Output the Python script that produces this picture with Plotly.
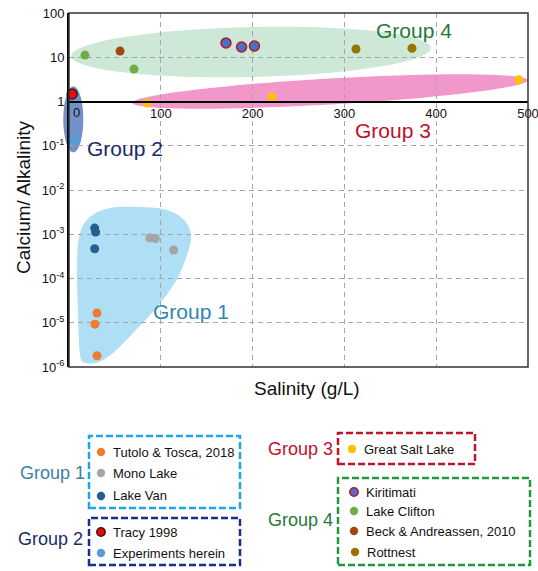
import numpy as np
import plotly.graph_objects as go

# ---------------- data ----------------
tutolo_sal = [30.5, 28.3, 30.5]
tutolo_ratio = [1.66e-5, 9.3e-6, 1.8e-6]
mono_sal = [88, 94, 114]
mono_ratio = [8.3e-4, 8.0e-4, 4.4e-4]
van_sal = [28, 29, 28]
van_ratio = [1.38e-3, 1.12e-3, 4.7e-4]
tracy_sal = [3.5]
tracy_ratio = [1.48]
exp_sal = [2, 8]
exp_ratio = [0.135, 0.135]
gsl_sal = [85, 221, 490]
gsl_ratio = [0.92, 1.26, 3.1]
kiri_sal = [171, 188, 202]
kiri_ratio = [21, 17, 18]
clifton_sal = [17.4, 70.8]
clifton_ratio = [11.2, 5.4]
beck_sal = [55.6]
beck_ratio = [13.8]
rott_sal = [312.6, 373.6]
rott_ratio = [15.4, 16]

x_ticks = [0, 100, 200, 300, 400, 500]
x_ticktext = ["", "100", "200", "300", "400", "500"]   # "0" is drawn slightly offset below
y_tickvals = [1e2, 1e1, 1, 1e-1, 1e-2, 1e-3, 1e-4, 1e-5, 1e-6]
y_ticktext = ["100", "10", "1", "10<sup>-1</sup>", "10<sup>-2</sup>", "10<sup>-3</sup>",
              "10<sup>-4</sup>", "10<sup>-5</sup>", "10<sup>-6</sup>"]

# ---------------- layout geometry ----------------
W_FIG, H_FIG = 538, 571
PL, PR, PT, PB = 69, 528, 13, 367          # plot area in pixels
ML, MR, MT, MB = PL, W_FIG - PR, PT, H_FIG - PB
PW = PR - PL
PH = PB - PT
FONT = "Arial, Liberation Sans, sans-serif"


def px(x):
    return (x - PL) / PW


def py(y):
    return (PB - y) / PH


def ellipse_path(cx, cy, a, b, ang_deg, n=80):
    t = np.linspace(0, 2 * np.pi, n, endpoint=False)
    ang = np.deg2rad(ang_deg)
    ex = a * np.cos(t)
    ey = b * np.sin(t)
    X = cx + ex * np.cos(ang) + ey * np.sin(ang)
    Y = cy - (ex * np.sin(ang) - ey * np.cos(ang))
    pts = [f"{px(xx):.5f},{py(yy):.5f}" for xx, yy in zip(X, Y)]
    return "M" + " L".join(pts) + " Z"


def smooth_closed_path(points, steps=12):
    P = np.array(points, dtype=float)
    n = len(P)
    out = []
    for i in range(n):
        p0, p1, p2, p3 = P[(i - 1) % n], P[i], P[(i + 1) % n], P[(i + 2) % n]
        for s in np.linspace(0, 1, steps, endpoint=False):
            s2, s3 = s * s, s * s * s
            v = 0.5 * ((2 * p1) + (-p0 + p2) * s + (2 * p0 - 5 * p1 + 4 * p2 - p3) * s2
                       + (-p0 + 3 * p1 - 3 * p2 + p3) * s3)
            out.append(v)
    pts = [f"{px(x):.5f},{py(y):.5f}" for x, y in out]
    return "M" + " L".join(pts) + " Z"


fig = go.Figure()


def add_series(xs, ys, color, line_color=None, line_width=0, size=9):
    fig.add_trace(go.Scatter(
        x=xs, y=ys, mode="markers", showlegend=False, cliponaxis=False,
        marker=dict(size=size, color=color,
                    line=dict(color=line_color or color, width=line_width)),
    ))


C_TUT, C_MONO, C_VAN = "#ED7D31", "#A5A5A5", "#255E91"
C_TRACY, C_EXP = "#FF0000", "#5B9BD5"
C_GSL = "#FFC000"
C_KIRI, C_KIRI_EDGE = "#4472C4", "#C0102A"
C_CLIF, C_BECK, C_ROTT = "#70AD47", "#9E480E", "#997300"

add_series(clifton_sal, clifton_ratio, C_CLIF)
add_series(beck_sal, beck_ratio, C_BECK)
add_series(rott_sal, rott_ratio, C_ROTT)
add_series(kiri_sal, kiri_ratio, C_KIRI, C_KIRI_EDGE, 1.5, 10)
add_series(gsl_sal, gsl_ratio, C_GSL)
add_series(exp_sal, exp_ratio, C_EXP)
add_series(tracy_sal, tracy_ratio, C_TRACY, "#222222", 1.5, 10)
add_series(mono_sal, mono_ratio, C_MONO)
add_series(van_sal, van_ratio, C_VAN)
add_series(tutolo_sal, tutolo_ratio, C_TUT)

shapes = []
# group regions
shapes.append(dict(type="path", xref="paper", yref="paper", layer="below",
                   path=ellipse_path(251, 52, 180, 25, 1.3),
                   fillcolor="#CDE8D6", line=dict(width=0)))
shapes.append(dict(type="path", xref="paper", yref="paper", layer="below",
                   path=ellipse_path(330, 91.5, 198, 13, 3.3),
                   fillcolor="#F297C9", line=dict(width=0)))
shapes.append(dict(type="path", xref="paper", yref="paper", layer="below",
                   path=ellipse_path(73.3, 119.3, 10, 33, 0),
                   fillcolor="#7192C8", line=dict(width=0)))
blob = [(90, 217), (110, 208), (140, 207), (167, 210), (184, 220), (191, 236),
        (187, 255), (176, 281), (157, 307), (133, 333), (113, 353), (99, 362),
        (86, 363), (80, 355), (78, 313), (77, 263), (80, 233)]
shapes.append(dict(type="path", xref="paper", yref="paper", layer="below",
                   path=smooth_closed_path(blob),
                   fillcolor="#AFDFF4", line=dict(width=0)))
# frame
shapes.append(dict(type="rect", xref="paper", yref="paper", x0=0, x1=1, y0=0, y1=1,
                   layer="above", line=dict(color="#333333", width=1.5)))

annotations = []


def text(x, y, s, size, color, xanchor="center", angle=0):
    annotations.append(dict(x=px(x), y=py(y), xref="paper", yref="paper", text=s,
                            showarrow=False, xanchor=xanchor, yanchor="middle",
                            textangle=angle,
                            font=dict(family=FONT, size=size, color=color)))


# "0" tick label of the salinity axis (sits just right of the y axis)
text(76, 112, "0", 13, "#111111")
# in-plot group labels
text(414, 31, "Group 4", 21, "#1E7B3A")
text(393, 130, "Group 3", 21, "#C0102A")
text(125, 148, "Group 2", 21, "#1B2A6B")
text(191, 311, "Group 1", 21, "#2F86B4")
# axis titles
text(307, 388, "Salinity (g/L)", 19, "#111111")
text(23, 197, "Calcium/ Alkalinity", 19, "#111111", angle=-90)

# custom legend
LEG_FONT = 13


def box(x0, y0, x1, y1, color):
    shapes.append(dict(type="rect", xref="paper", yref="paper",
                       x0=px(x0), x1=px(x1), y0=py(y1), y1=py(y0), layer="above",
                       line=dict(color=color, width=2.5, dash="7px,3px")))


def dot(x, y, color, edge=None, r=4.2):
    shapes.append(dict(type="circle", xref="paper", yref="paper",
                       xsizemode="pixel", ysizemode="pixel",
                       xanchor=px(x), yanchor=py(y), x0=-r, x1=r, y0=-r, y1=r,
                       fillcolor=color, layer="above",
                       line=dict(color=edge or color, width=1.5 if edge else 0)))


box(89, 436, 240, 508, "#1EA7E6")
box(89, 518, 240, 565, "#1A2F8A")
box(338, 433, 475, 464, "#C0142C")
box(338, 478, 530, 565, "#1E9A3A")

text(52, 473, "Group 1", 18, "#3A7FA8")
text(50, 539, "Group 2", 18, "#1B2A6B")
text(300, 449, "Group 3", 18, "#C0102A")
text(300, 520, "Group 4", 18, "#1E7B3A")

legend_items = [
    (101, 452, C_TUT, None, "Tutolo &amp; Tosca, 2018"),
    (101, 473, C_MONO, None, "Mono Lake"),
    (101, 496, C_VAN, None, "Lake Van"),
    (101, 532, C_TRACY, "#222222", "Tracy 1998"),
    (101, 553, C_EXP, None, "Experiments herein"),
    (352, 449, C_GSL, None, "Great Salt Lake"),
    (354, 492, C_KIRI, C_KIRI_EDGE, "Kiritimati"),
    (354, 511, C_CLIF, None, "Lake Clifton"),
    (354, 531, C_BECK, None, "Beck &amp; Andreassen, 2010"),
    (355, 552, C_ROTT, None, "Rottnest"),
]
for (lx, ly, col, edge, lab) in legend_items:
    dot(lx, ly, col, edge)
    text(lx + 10, ly, lab, LEG_FONT, "#111111", xanchor="left")

grid_style = dict(showgrid=True, gridcolor="#A6A6A6", gridwidth=1, griddash="5px,4px")

fig.update_layout(
    width=W_FIG, height=H_FIG, autosize=False,
    margin=dict(l=ML, r=MR, t=MT, b=MB, pad=0, autoexpand=False),
    paper_bgcolor="white", plot_bgcolor="rgba(0,0,0,0)",
    font=dict(family=FONT, size=13, color="#111111"),
    shapes=shapes, annotations=annotations,
    xaxis=dict(range=[0, 500], tickvals=x_ticks, ticktext=x_ticktext,
               anchor="free", position=0.75, showline=True, linecolor="black",
               linewidth=1.5, ticks="", zeroline=False, automargin=False,
               ticklabeloverflow="allow",
               tickfont=dict(family=FONT, size=13, color="#111111"), **grid_style),
    yaxis=dict(type="log", range=[-6, 2], tickvals=y_tickvals, ticktext=y_ticktext,
               showline=True, linecolor="black", linewidth=2, ticks="",
               zeroline=False, automargin=False, ticklabeloverflow="allow",
               tickfont=dict(family=FONT, size=13, color="#111111"),
               **grid_style),
)

# remove the default page margin so the 538x571 figure fills the window exactly
fig.write_html("out.html", config={"displayModeBar": False},
               post_script="document.body.style.margin='0';document.body.style.overflow='hidden';")
